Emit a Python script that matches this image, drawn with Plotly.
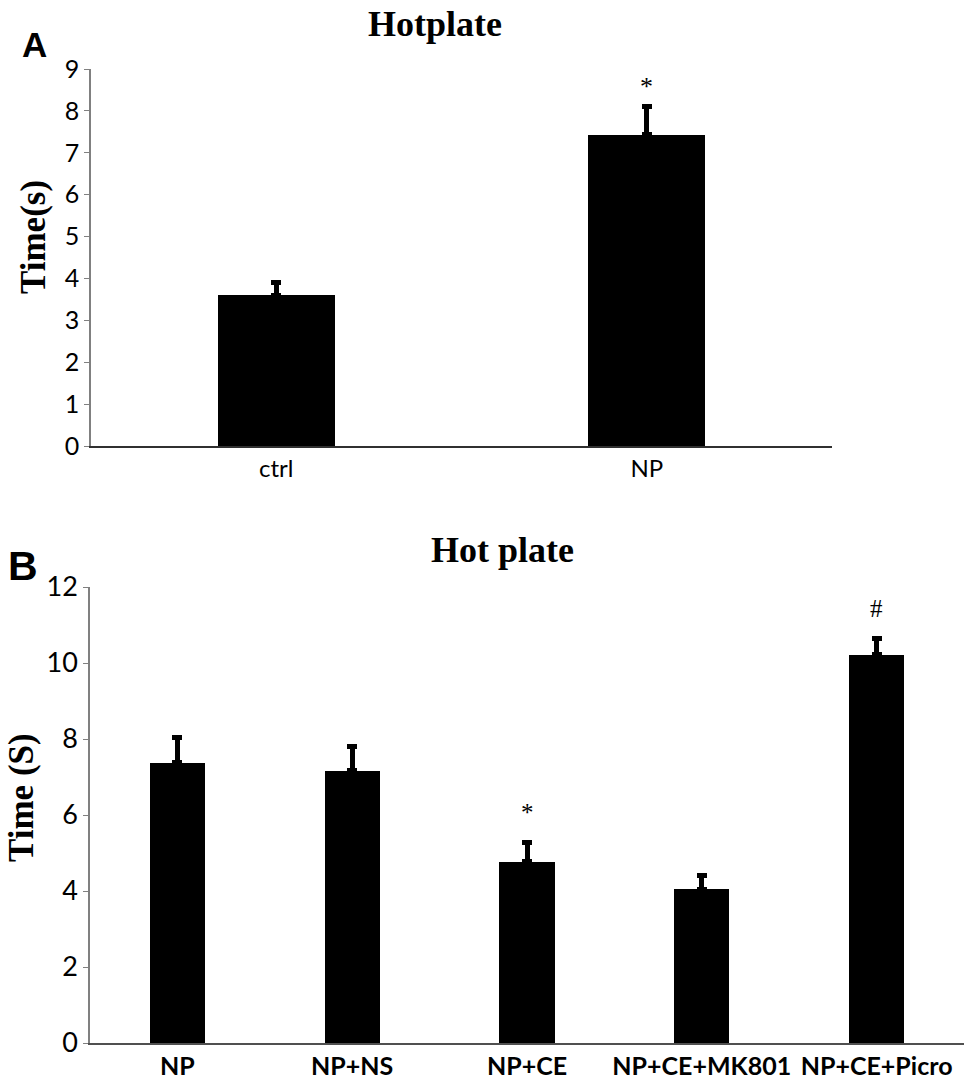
import plotly.graph_objects as go

# Panel A data
cats_a = ["ctrl", "NP"]
vals_a = [3.6, 7.43]
errs_a = [0.31, 0.68]
marks_a = ["", "*"]

# Panel B data
cats_b = ["NP", "NP+NS", "NP+CE", "NP+CE+MK801", "NP+CE+Picro"]
vals_b = [7.37, 7.16, 4.77, 4.05, 10.22]
errs_b = [0.68, 0.64, 0.51, 0.35, 0.42]
marks_b = ["", "", "*", "", "#"]

yticks_a = list(range(0, 10))
yticks_b = list(range(0, 13, 2))

W, H = 969, 1087

def px(x):
    return x / W

def py(y):
    return 1 - y / H

fig = go.Figure()

fig.add_trace(go.Bar(
    x=cats_a, y=vals_a, width=0.315,
    marker=dict(color="black", line=dict(width=0)),
    error_y=dict(type="data", array=errs_a, arrayminus=[0] * len(errs_a),
                 symmetric=False, color="black", thickness=5, width=5),
    xaxis="x", yaxis="y", showlegend=False,
))

fig.add_trace(go.Bar(
    x=cats_b, y=vals_b, width=0.315,
    marker=dict(color="black", line=dict(width=0)),
    error_y=dict(type="data", array=errs_b, arrayminus=[0] * len(errs_b),
                 symmetric=False, color="black", thickness=5, width=5),
    xaxis="x2", yaxis="y2", showlegend=False,
))

lato = "Lato, Open Sans, sans-serif"

fig.update_layout(
    width=W, height=H,
    margin=dict(l=0, r=0, t=0, b=0, pad=0, autoexpand=False),
    paper_bgcolor="white", plot_bgcolor="white",
    bargap=0,
    xaxis=dict(domain=[px(91), px(832)], anchor="y", automargin=False,
               showline=True, linecolor="#303030", linewidth=2,
               ticks="", showgrid=False, zeroline=False,
               tickfont=dict(family=lato, size=24, color="black")),
    yaxis=dict(domain=[py(446), py(69)], anchor="x", range=[0, 9], automargin=False,
               tickvals=yticks_a, showline=True, linecolor="#808080", linewidth=1.5,
               ticks="outside", ticklen=5, tickcolor="#808080",
               showgrid=False, zeroline=False,
               tickfont=dict(family=lato, size=25, color="black")),
    xaxis2=dict(domain=[px(90), px(964)], anchor="y2", automargin=False,
                showline=True, linecolor="#505050", linewidth=2,
                ticks="", showgrid=False, zeroline=False,
                tickfont=dict(family=lato, size=25, color="black"),
                tickvals=cats_b, ticktext=["<b>%s</b>" % c for c in cats_b]),
    yaxis2=dict(domain=[py(1043), py(587)], anchor="x2", range=[0, 12], automargin=False,
                tickvals=yticks_b, showline=True, linecolor="#808080", linewidth=1.5,
                ticks="outside", ticklen=5, tickcolor="#808080",
                showgrid=False, zeroline=False,
                tickfont=dict(family=lato, size=27, color="black")),
)

def paper_text(text, x, y, size, family, angle=0):
    return dict(text=text, x=px(x), y=py(y), xref="paper", yref="paper",
                xanchor="center", yanchor="middle", textangle=angle,
                showarrow=False, font=dict(family=family, size=size, color="black"))

serif = "Liberation Serif, Times New Roman, serif"
sans = "Liberation Sans, Arial, sans-serif"

annotations = [
    paper_text("<b>Hotplate</b>", 435, 24, 36, serif),
    paper_text("<b>Hot plate</b>", 503, 550, 36, serif),
    paper_text("<b>A</b>", 34, 45, 35, sans),
    paper_text("<b>B</b>", 23, 566, 41, sans),
    paper_text("<b>Time(s)</b>", 33, 237, 35, serif, -90),
    paper_text("<b>Time (S)</b>", 21, 798, 35, serif, -90),
]

# Significance marks
for c, v, e, m in zip(cats_a, vals_a, errs_a, marks_a):
    if m:
        annotations.append(dict(text=m, x=c, y=v + e, xref="x", yref="y", yshift=20,
                                xanchor="center", yanchor="middle", showarrow=False,
                                font=dict(family=serif, size=26, color="black")))
for c, v, e, m in zip(cats_b, vals_b, errs_b, marks_b):
    if m:
        annotations.append(dict(text=m, x=c, y=v + e, xref="x2", yref="y2", yshift=30,
                                xanchor="center", yanchor="middle", showarrow=False,
                                font=dict(family=serif, size=25, color="black")))

fig.update_layout(annotations=annotations)

fig.write_html("out.html", config={"displayModeBar": False},
               post_script="document.body.style.margin='0px';document.body.style.overflow='hidden';")
